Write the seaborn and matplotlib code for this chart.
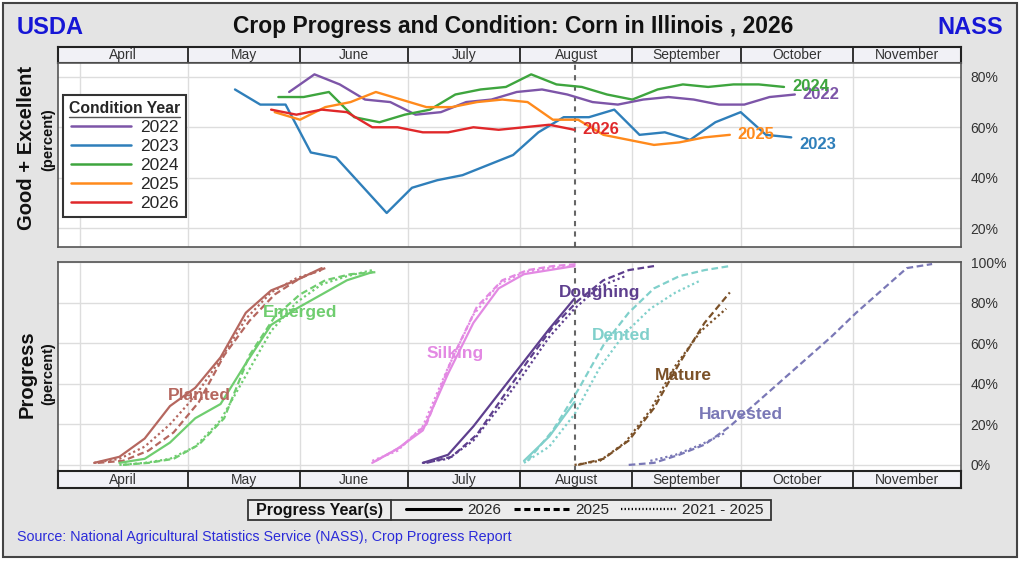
import numpy as np
import pandas as pd
import matplotlib
matplotlib.use("Agg")
import matplotlib.pyplot as plt
import seaborn as sns
from matplotlib.lines import Line2D
from matplotlib.patches import Rectangle

sns.set_theme(style="white")
plt.rcParams['font.family'] = ['Liberation Sans', 'DejaVu Sans']

# --- condition data (percent good + excellent), weekly from the start date ---
cond_years = ['2022', '2023', '2024', '2025', '2026']
cond_start = ['05-29', '05-14', '05-26', '05-25', '05-24']
cond_colors = ['#7d55a8', '#2f7fba', '#3ea53e', '#ff8a1c', '#e0282a']
cond_2022 = [74, 81, 77, 71, 70, 65, 66, 70, 71, 74, 75, 73, 70, 69, 71, 72, 71, 69, 69, 72, 73]
cond_2023 = [75, 69, 69, 50, 48, 37, 26, 36, 39, 41, 45, 49, 58, 64, 64, 67, 57, 58, 55, 62, 66, 57, 56]
cond_2024 = [72, 72, 74, 64, 62, 65, 67, 73, 75, 76, 81, 77, 76, 73, 71, 75, 77, 76, 77, 77, 76]
cond_2025 = [66, 63, 68, 70, 74, 71, 68, 68, 70, 71, 70, 63, 63, 57, 55, 53, 54, 56, 57]
cond_2026 = [67, 65, 67, 66, 60, 60, 58, 58, 60, 59, 60, 61, 59]
cond_values = [cond_2022, cond_2023, cond_2024, cond_2025, cond_2026]
cond_label_shift = [0, -3, 0, 0, 0]

# --- progress data (percent), (start date, weekly values) per year kind ---
stages = ['Planted', 'Emerged', 'Silking', 'Doughing', 'Dented', 'Mature', 'Harvested']
stage_colors = ['#b5675f', '#6fcd6f', '#e389e3', '#5e3f8e', '#80d0cb', '#7b5128', '#7a78b6']
kinds = ['2026', '2025', '2021 - 2025']

planted = {'2026': ('04-05', [1, 4, 13, 29, 38, 53, 75, 86, 91, 97]),
           '2025': ('04-06', [1, 2, 7, 16, 31, 54, 71, 84, 92, 97]),
           '2021 - 2025': ('04-05', [1, 3, 9, 20, 34, 52, 72, 85, 92, 96])}
emerged = {'2026': ('04-12', [1, 3, 11, 23, 30, 50, 69, 77, 84, 91, 95]),
           '2025': ('04-13', [0, 1, 3, 10, 23, 54, 73, 84, 91, 94, 95]),
           '2021 - 2025': ('04-12', [0, 1, 3, 9, 22, 44, 66, 80, 89, 93, 96])}
silking = {'2026': ('06-21', [1, 8, 17, 45, 70, 87, 94, 96, 98]),
           '2025': ('06-22', [2, 9, 20, 52, 78, 91, 96, 98, 99]),
           '2021 - 2025': ('06-21', [2, 7, 19, 48, 74, 89, 95, 97, 98])}
doughing = {'2026': ('07-05', [1, 5, 19, 35, 51, 67, 82]),
            '2025': ('07-06', [1, 4, 15, 33, 51, 68, 81, 91, 96, 98]),
            '2021 - 2025': ('07-05', [1, 3, 12, 28, 45, 63, 77, 88, 93])}
dented = {'2026': ('08-02', [2, 14, 31]),
          '2025': ('08-03', [2, 17, 37, 59, 75, 87, 93, 96, 98]),
          '2021 - 2025': ('08-02', [1, 9, 25, 48, 65, 77, 85, 91])}
mature = {'2025': ('08-17', [0, 3, 12, 28, 50, 70, 85]),
          '2021 - 2025': ('08-16', [0, 2, 11, 27, 49, 66, 77])}
harvested = {'2025': ('08-31', [0, 1, 5, 10, 19, 30, 41, 52, 63, 75, 86, 97, 99]),
             '2021 - 2025': ('09-06', [2, 5, 10, 16])}
stage_data = [planted, emerged, silking, doughing, dented, mature, harvested]
# label anchor (date, percent) for each stage name
stage_label_at = [('05-04', 34), ('06-01', 75), ('07-14', 55), ('08-23', 85),
                  ('08-29', 64), ('09-15', 44), ('10-01', 25)]

month_names = ['April', 'May', 'June', 'July', 'August', 'September', 'October', 'November']
month_starts = ['04-01', '05-01', '06-01', '07-01', '08-01', '09-01', '10-01', '11-01', '12-01']


def doy(md):
    return pd.Timestamp('2026-' + md).dayofyear


def weekly(md, n):
    return pd.date_range('2026-' + md, periods=n, freq='7D').dayofyear.values


rows = []
for yr, start, vals in zip(cond_years, cond_start, cond_values):
    for d, v in zip(weekly(start, len(vals)), vals):
        rows.append((yr, d, v))
cond = pd.DataFrame(rows, columns=['year', 'day', 'value'])

rows = []
for name, data in zip(stages, stage_data):
    for kind, (start, vals) in data.items():
        for d, v in zip(weekly(start, len(vals)), vals):
            rows.append((name, kind, d, v))
prog = pd.DataFrame(rows, columns=['stage', 'kind', 'day', 'value'])

XMIN, XMAX = 85, 335
month_doy = [doy(m) for m in month_starts]
report_day = weekly(cond_start[-1], len(cond_2026))[-1]

W, H = 1024, 561
fig = plt.figure(figsize=(W / 100, H / 100), dpi=100)
fig.patch.set_facecolor('white')
fig.add_artist(Rectangle((3 / W, 1 - 557 / H), 1014 / W, 554 / H, transform=fig.transFigure,
                         facecolor='#e4e4e4', edgecolor='#444444', lw=1.5, zorder=-10))

L, R = 58, 961
ax_top_band = fig.add_axes([L / W, 1 - 63 / H, (R - L) / W, 16 / H])
ax_top = fig.add_axes([L / W, 1 - 247 / H, (R - L) / W, 184 / H])
ax_bot = fig.add_axes([L / W, 1 - 471 / H, (R - L) / W, 209 / H])
ax_bot_band = fig.add_axes([L / W, 1 - 488 / H, (R - L) / W, 17 / H])


def month_band(ax):
    ax.set_xlim(XMIN, XMAX)
    ax.set_ylim(0, 1)
    ax.set_facecolor('#f1f1f6')
    for d in month_doy[1:-1]:
        ax.axvline(d, color='#222222', lw=1.3)
    edges = [XMIN] + month_doy[1:-1] + [XMAX]
    for name, a, b in zip(month_names, edges[:-1], edges[1:]):
        ax.text((a + b) / 2, 0.47, name, ha='center', va='center', fontsize=10, color='#333333')
    ax.set_xticks([])
    ax.set_yticks([])
    for s in ax.spines.values():
        s.set_color('#222222')
        s.set_linewidth(1.5)


def panel(ax, ylim, ticks):
    ax.set_facecolor('white')
    ax.set_xlim(XMIN, XMAX)
    ax.set_ylim(*ylim)
    ax.set_xticks(month_doy[:-1])
    ax.set_xticklabels([])
    ax.tick_params(axis='x', length=0)
    ax.yaxis.tick_right()
    ax.set_yticks(ticks)
    ax.set_yticklabels([f'{t}%' for t in ticks])
    ax.tick_params(axis='y', length=0, pad=7, labelsize=10, labelcolor='#333333')
    ax.grid(True, color='#dddddd', lw=1)
    ax.set_axisbelow(True)
    for s in ax.spines.values():
        s.set_color('#555555')
        s.set_linewidth(1.2)
    ax.set_xlabel('')
    ax.set_ylabel('')
    ax.axvline(report_day, color='#666666', ls=(0, (2.5, 2.5)), lw=1.5, zorder=1)


month_band(ax_top_band)
month_band(ax_bot_band)

# ---- top: condition ----
sns.lineplot(data=cond, x='day', y='value', hue='year', palette=dict(zip(cond_years, cond_colors)),
             lw=1.7, legend=False, estimator=None, ax=ax_top)
panel(ax_top, (12.5, 85.5), [20, 40, 60, 80])
for yr, start, vals, c, sh in zip(cond_years, cond_start, cond_values, cond_colors, cond_label_shift):
    last = weekly(start, len(vals))[-1]
    ax_top.text(last + 2.2, vals[-1] + sh, yr, color=c, fontsize=12, fontweight='bold', va='center')

handles = [Line2D([], [], color=c, lw=1.8) for c in cond_colors]
leg = ax_top.legend(handles, cond_years, title='Condition Year', loc='upper left',
                    bbox_to_anchor=(0.0055, 0.826), fontsize=12.5,
                    title_fontproperties={'weight': 'bold', 'size': 11.3},
                    frameon=True, fancybox=False, edgecolor='#333333', framealpha=1,
                    handlelength=3.5, handletextpad=0.5, labelspacing=0.22,
                    borderpad=0.35, borderaxespad=0)
leg.get_frame().set_linewidth(1.5)

# ---- bottom: progress ----
sns.lineplot(data=prog, x='day', y='value', hue='stage', style='kind',
             palette=dict(zip(stages, stage_colors)),
             dashes={'2026': '', '2025': (3, 1.6), '2021 - 2025': (1, 1.3)},
             lw=1.6, legend=False, estimator=None, ax=ax_bot)
panel(ax_bot, (-3, 100), [0, 20, 40, 60, 80, 100])
for name, c, (md, v) in zip(stages, stage_colors, stage_label_at):
    ax_bot.text(doy(md), v, name, color=c, fontsize=12.5, fontweight='bold', ha='center', va='center')

# ---- titles & labels ----
fig.text(513 / W, 1 - 27 / H, 'Crop Progress and Condition: Corn in Illinois , 2026',
         ha='center', va='center', fontsize=16.5, fontweight='bold', color='#111111')
fig.text(17 / W, 1 - 27 / H, 'USDA', ha='left', va='center', fontsize=17, fontweight='bold', color='#1616d6')
fig.text(1003 / W, 1 - 27 / H, 'NASS', ha='right', va='center', fontsize=17, fontweight='bold', color='#1616d6')

fig.text(27 / W, 1 - 148 / H, 'Good + Excellent', rotation=90, ha='center', va='center',
         fontsize=14.5, fontweight='bold', color='#111111')
fig.text(48 / W, 1 - 140 / H, '(percent)', rotation=90, ha='center', va='center',
         fontsize=10.5, fontweight='bold', color='#111111')
fig.text(27 / W, 1 - 374 / H, 'Progress', rotation=90, ha='center', va='center',
         fontsize=14.5, fontweight='bold', color='#111111')
fig.text(48 / W, 1 - 374 / H, '(percent)', rotation=90, ha='center', va='center',
         fontsize=10.5, fontweight='bold', color='#111111')

# progress legend box
fig.add_artist(Rectangle((248 / W, 1 - 520 / H), 523 / W, 20 / H, transform=fig.transFigure,
                         facecolor='#ececec', edgecolor='#333333', lw=1.3))
fig.add_artist(Line2D([391 / W, 391 / W], [1 - 520 / H, 1 - 500 / H], transform=fig.transFigure,
                      color='#333333', lw=1.3))
fig.text(319 / W, 1 - 510 / H, 'Progress Year(s)', ha='center', va='center',
         fontsize=11.5, fontweight='bold', color='#111111')
kind_handles = [Line2D([], [], color='black', lw=2.2),
                Line2D([], [], color='black', lw=2.2, ls=(0, (2, 1.2))),
                Line2D([], [], color='black', lw=1.6, ls=(0, (0.6, 1.0)))]
fig.legend(kind_handles, kinds, ncol=3, loc='center', bbox_to_anchor=(585 / W, 1 - 510 / H),
           frameon=False, fontsize=11, handlelength=3.6, handletextpad=0.4, columnspacing=0.8,
           borderpad=0, borderaxespad=0)

fig.text(17 / W, 1 - 537 / H,
         'Source: National Agricultural Statistics Service (NASS), Crop Progress Report',
         ha='left', va='center', fontsize=10.3, color='#2b2bd9')

# underline the condition legend title
fig.canvas.draw()
tb = leg.get_title().get_window_extent()
y_ul = (tb.y0 - 1) / H
fig.add_artist(Line2D([tb.x0 / W, tb.x1 / W], [y_ul, y_ul], transform=fig.transFigure,
                      color='#555555', lw=1.0))

fig.savefig('out.png', dpi=100, facecolor=fig.get_facecolor())
